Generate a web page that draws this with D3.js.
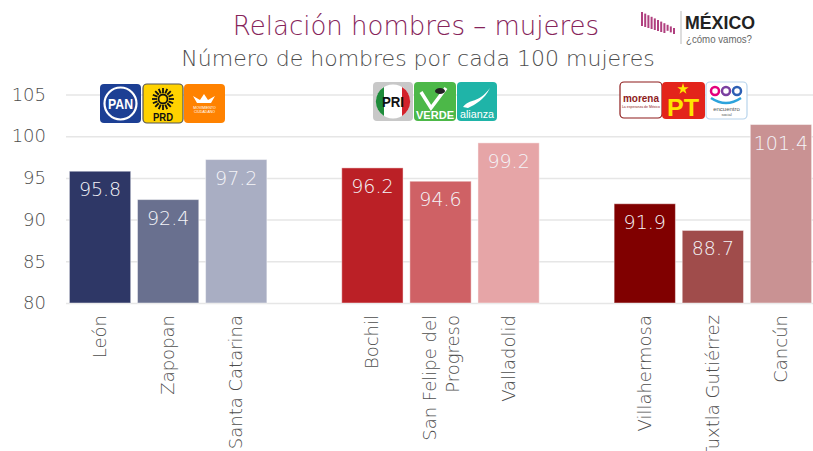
<!DOCTYPE html>
<html>
<head>
<meta charset="utf-8">
<script src="https://cdn.jsdelivr.net/npm/d3@7"></script>
<style>
  body { margin: 0; background: #fff; }
  text { font-family: "DejaVu Sans", sans-serif; }
</style>
</head>
<body>
<div id="chart"></div>
<script>
// data
var cities = ["León", "Zapopan", "Santa Catarina", "Bochil", "San Felipe del Progreso", "Valladolid", "Villahermosa", "Tuxtla Gutiérrez", "Cancún"];
var cityLines = [["León"], ["Zapopan"], ["Santa Catarina"], ["Bochil"], ["San Felipe del", "Progreso"], ["Valladolid"], ["Villahermosa"], ["Tuxtla Gutiérrez"], ["Cancún"]];
var ratios = [95.8, 92.4, 97.2, 96.2, 94.6, 99.2, 91.9, 88.7, 101.4];
var barColors = ["#2e3766", "#69708f", "#a9aec3", "#bb2026", "#cf6165", "#e6a5a7", "#800000", "#a04c4b", "#c99293"];
var slots = ["León", "Zapopan", "Santa Catarina", "gap1", "Bochil", "San Felipe del Progreso", "Valladolid", "gap2", "Villahermosa", "Tuxtla Gutiérrez", "Cancún"];
var yTicks = [80, 85, 90, 95, 100, 105];

var svgWidth = 813, svgHeight = 451;
var light = 200;
var grey = "#4d4d4d";

var svg = d3.select("#chart").append("svg")
  .attr("width", svgWidth)
  .attr("height", svgHeight);

var x = d3.scaleBand()
  .domain(slots)
  .range([66, 815])
  .paddingInner(0.1)
  .paddingOuter(0.05);

var y = d3.scaleLinear()
  .domain([80, 105])
  .range([303, 94.5]);

// titles
svg.append("text")
  .attr("x", 416).attr("y", 35)
  .attr("text-anchor", "middle")
  .style("font-size", "26px")
  .style("font-weight", light)
  .attr("fill", "#86245a")
  .text("Relación hombres – mujeres");

svg.append("text")
  .attr("x", 418).attr("y", 66)
  .attr("text-anchor", "middle")
  .style("font-size", "22px")
  .style("font-weight", light)
  .attr("fill", grey)
  .text("Número de hombres por cada 100 mujeres");

// grid + y labels
var yAxis = d3.axisLeft(y).tickValues(yTicks).tickSize(-(815 - 66)).tickPadding(20);
var yg = svg.append("g")
  .attr("transform", "translate(66,0)")
  .call(yAxis);
yg.select(".domain").remove();
yg.selectAll(".tick line").attr("stroke", "#e6e6e6").attr("stroke-width", 1.5);
yg.selectAll(".tick text")
  .attr("fill", grey)
  .style("font-family", "'DejaVu Sans', sans-serif")
  .style("font-size", "18px")
  .style("font-weight", light);

// bars
svg.selectAll(".bar")
  .data(cities)
  .enter()
  .append("rect")
  .attr("class", "bar")
  .attr("x", d => x(d))
  .attr("y", (d, i) => y(ratios[i]))
  .attr("width", x.bandwidth())
  .attr("height", (d, i) => y(80) - y(ratios[i]))
  .attr("fill", (d, i) => barColors[i])
  .attr("stroke", "rgba(255,255,255,0.45)")
  .attr("stroke-width", 1);

svg.selectAll(".val")
  .data(cities)
  .enter()
  .append("text")
  .attr("class", "val")
  .attr("x", d => x(d) + x.bandwidth() / 2)
  .attr("y", (d, i) => y(ratios[i]) + 25)
  .attr("text-anchor", "middle")
  .style("font-size", "19px")
  .style("font-weight", light)
  .attr("fill", "#f4f4f8")
  .text((d, i) => ratios[i].toFixed(1));

// city labels (rotated)
var lbl = svg.selectAll(".cat")
  .data(cities)
  .enter()
  .append("text")
  .attr("class", "cat")
  .attr("transform", d => `translate(${x(d) + x.bandwidth() / 2}, 315) rotate(-90)`)
  .attr("text-anchor", "end")
  .style("font-size", "18px")
  .style("font-weight", light)
  .attr("fill", grey);

lbl.each(function(d, i) {
  var lines = cityLines[i];
  var t = d3.select(this);
  if (lines.length === 1) {
    t.append("tspan").attr("x", 0).attr("y", 6).text(lines[0]);
  } else {
    t.append("tspan").attr("x", 0).attr("y", -5).text(lines[0]);
    t.append("tspan").attr("x", 0).attr("y", 18).text(lines[1]);
  }
});

// party logos
function logoBox(x0, y0, w, h, fill, stroke) {
  return svg.append("rect")
    .attr("x", x0).attr("y", y0).attr("width", w).attr("height", h)
    .attr("rx", 4).attr("fill", fill)
    .attr("stroke", stroke || "none").attr("stroke-width", 1.2);
}
function logoText(tx, ty, size, weight, fill, str, len) {
  var t = svg.append("text").attr("x", tx).attr("y", ty).attr("text-anchor", "middle")
    .style("font-family", "'Liberation Sans', sans-serif")
    .style("font-size", size + "px").style("font-weight", weight)
    .attr("fill", fill).text(str);
  if (len) t.attr("textLength", len).attr("lengthAdjust", "spacingAndGlyphs");
  return t;
}

// PAN
logoBox(100, 84, 41, 39, "#1c3f94");
svg.append("circle").attr("cx", 120.5).attr("cy", 103.5).attr("r", 16)
  .attr("fill", "none").attr("stroke", "#fff").attr("stroke-width", 2.2);
logoText(120.5, 109, 15, 700, "#fff", "PAN", 25);

// PRD
logoBox(143, 84, 40, 39, "#ffd200", "#555");
var sun = svg.append("g").attr("transform", "translate(163,99)");
d3.range(16).forEach(function(k) {
  var a = k * Math.PI / 8;
  sun.append("line")
    .attr("x1", Math.cos(a) * 6).attr("y1", Math.sin(a) * 6)
    .attr("x2", Math.cos(a) * 11).attr("y2", Math.sin(a) * 11)
    .attr("stroke", "#111").attr("stroke-width", 1.8);
});
sun.append("circle").attr("r", 4.5).attr("fill", "none").attr("stroke", "#111").attr("stroke-width", 1.8);
logoText(163, 121, 10, 700, "#111", "PRD", 20);

// Movimiento Ciudadano
logoBox(184, 84, 41, 39, "#ff8200");
svg.append("path")
  .attr("d", "M193,96 L200,100 L204,94 L208,100 L215,96 L211,103 L197,103 Z")
  .attr("fill", "#fff");
logoText(204.5, 109, 3.5, 400, "#fff", "MOVIMIENTO");
logoText(204.5, 113, 3.5, 400, "#fff", "CIUDADANO");

// PRI
logoBox(373, 82, 40, 39, "#c8c8c8");
svg.append("circle").attr("cx", 393).attr("cy", 101.5).attr("r", 17).attr("fill", "#fff");
svg.append("path").attr("d", "M384,87 A17,17 0 0,0 384,116 Z").attr("fill", "#1e8b3a");
svg.append("path").attr("d", "M402,87 A17,17 0 0,1 402,116 Z").attr("fill", "#d3222a");
logoText(393, 107, 15, 700, "#111", "PRI", 22);

// VERDE
logoBox(414, 82, 42, 39, "#4cb848");
svg.append("path").attr("d", "M421,92 L431,108 L446,88").attr("fill", "none")
  .attr("stroke", "#fff").attr("stroke-width", 3.5);
svg.append("ellipse").attr("cx", 440).attr("cy", 91).attr("rx", 5).attr("ry", 3).attr("fill", "#222");
logoText(435, 119, 11, 700, "#fff", "VERDE", 38);

// Nueva Alianza
logoBox(457, 82, 40, 39, "#1fb4a8");
svg.append("path").attr("d", "M463,107 C470,98 478,104 490,88 C484,100 476,104 468,108 Z").attr("fill", "#fff");
logoText(477, 118, 11, 400, "#fff", "alianza", 34);

// Morena
logoBox(620, 82, 42, 36, "#fff", "#8e1b1b");
logoText(641, 102, 11, 700, "#8e1b1b", "morena", 36);
logoText(641, 108, 3.5, 400, "#8e1b1b", "La esperanza de México");

// PT
logoBox(662, 82, 43, 37, "#e3241b");
svg.append("path")
  .attr("d", d3.symbol().type(d3.symbolStar).size(40)())
  .attr("transform", "translate(683,89)")
  .attr("fill", "#ffe600");
logoText(683, 116, 24, 700, "#ffe600", "PT", 32);

// Encuentro Social
logoBox(706, 82, 41, 37, "#fff", "#b8d4ec");
[[715, "#e4007c"], [726, "#7a3fa0"], [737, "#2c5fb4"]].forEach(function(p) {
  svg.append("circle").attr("cx", p[0]).attr("cy", 91).attr("r", 4).attr("fill", "none")
    .attr("stroke", p[1]).attr("stroke-width", 2.5);
});
svg.append("path").attr("d", "M711,98 Q726,108 741,98").attr("fill", "none")
  .attr("stroke", "#2ca3dc").attr("stroke-width", 2.5);
logoText(726.5, 111, 6, 400, "#555", "encuentro");
logoText(726.5, 116, 4, 400, "#555", "social");

// México ¿cómo vamos? logo
var stripes = svg.append("g");
d3.range(11).forEach(function(k) {
  var x0 = 641 + k * 3.2;
  var top = 12 + k * 1.6;
  var h = (k < 8) ? 14 - k * 0.6 : 6;
  stripes.append("rect")
    .attr("x", x0).attr("y", top).attr("width", 2).attr("height", h)
    .attr("fill", "#b0407f");
});
svg.append("line").attr("x1", 681).attr("x2", 681).attr("y1", 11).attr("y2", 44)
  .attr("stroke", "#bbb").attr("stroke-width", 1);
logoText(720, 29, 19, 700, "#222", "MÉXICO", 70);
logoText(719, 43, 10.5, 400, "#666", "¿cómo vamos?", 66);
</script>
</body>
</html>
